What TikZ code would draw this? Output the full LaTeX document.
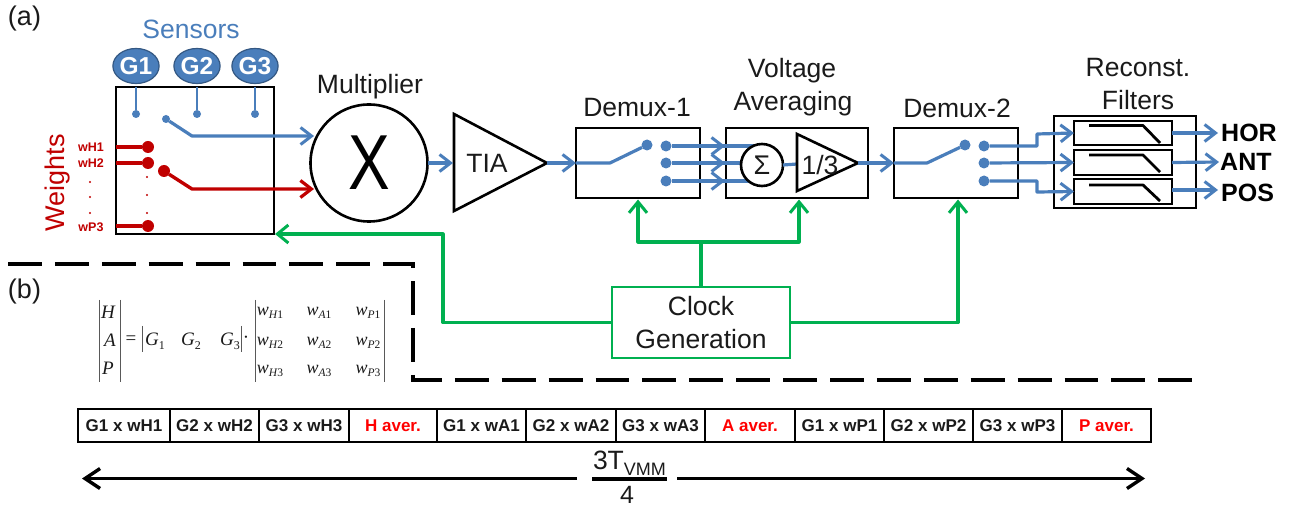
\documentclass[tikz,border=0pt]{standalone}
\usepackage{fontspec}
\setmainfont{Liberation Sans}
\newfontfamily\eqfont{Liberation Serif}
\usetikzlibrary{arrows.meta,shapes.geometric}
\definecolor{sblue}{HTML}{4A7EBB}
\definecolor{dred}{HTML}{C00000}
\definecolor{sgreen}{HTML}{00B050}
\definecolor{bred}{HTML}{FF0000}
\definecolor{txt}{HTML}{1A1A1A}
\newcommand\wsub[2]{w\raisebox{-3.5pt}{\fontsize{11.5}{11.5}\selectfont #1\upshape #2}}
\newcommand\gsub[1]{G\raisebox{-4pt}{\fontsize{12}{12}\selectfont\upshape #1}}
\tikzset{
  fs/.style={font=\fontsize{#1}{#1}\selectfont},
  lbl/.style={inner sep=0,outer sep=0,text=txt,fs=26.5},
  blk/.style={draw=black,line width=2.6pt,inner sep=0,outer sep=0,fill=white},
  blueline/.style={draw=sblue,line width=3.2pt,line join=round},
  bluearrow/.style={blueline,-{Straight Barb[length=11pt,width=17pt,line width=3pt]}},
  redline/.style={draw=dred,line width=3.4pt,line join=round},
  redarrow/.style={redline,-{Straight Barb[length=11pt,width=17pt,line width=3.2pt]}},
  greenarrow/.style={draw=sgreen,line width=3.2pt,line join=round,-{Straight Barb[length=11pt,width=18pt,line width=3pt]}},
  greenline/.style={draw=sgreen,line width=3.2pt,line join=round},
  bdot/.style={circle,fill=sblue,inner sep=0,outer sep=0,minimum size=#1},
  rdot/.style={circle,fill=dred,inner sep=0,outer sep=0,minimum size=#1},
  sensor/.style={ellipse,draw=sblue!70!black,line width=1.2pt,fill=sblue,inner sep=0,minimum width=42pt,minimum height=35pt,text=white,font=\fontsize{24.5}{24.5}\selectfont\bfseries},
  wlab/.style={inner sep=0,text=dred,font=\fontsize{12.5}{13}\selectfont\bfseries},
  outlbl/.style={inner sep=0,text=black,font=\fontsize{25}{25}\selectfont\bfseries},
  slot/.style={draw=black,line width=2.6pt,inner sep=0,outer sep=0,minimum height=33pt,font=\fontsize{17}{17}\selectfont\bfseries,text=txt},
  aver/.style={slot,text=bred},
  eqn/.style={inner sep=0,text=txt,font=\eqfont\itshape\fontsize{19}{19}\selectfont},
  eqs/.style={inner sep=0,text=txt,font=\eqfont\itshape\fontsize{18}{18}\selectfont},
  ebar/.style={draw=black!65,line width=1pt},
  filt/.style={draw=black,line width=2.8pt,line join=round},
  dashrule/.style={draw=black,line width=3.6pt,dash pattern=on 33.9pt off 13pt,line join=miter},
  kline/.style={draw=black,line width=3.4pt},
  kernarrow/.style={kline,-{Straight Barb[length=15pt,width=20pt,line width=3.4pt]}},
}
\begin{document}
\begin{tikzpicture}[x=1pt,y=-1pt]
\useasboundingbox (0,0) rectangle (1303,510);
\node[lbl,anchor=west,fs=27] (lblA) at (8,19) {(a)};
\node[lbl,anchor=west,fs=27] (lblB) at (8,292) {(b)};
% sensor box
\node[blk,minimum width=158pt,minimum height=147pt] (sbox) at (195,160.5) {};
\node[lbl,text=sblue] (sens) at (191,29) {Sensors};
\node[sensor] (G1) at (136,66) {G1};
\node[sensor] (G2) at (197,66) {G2};
\node[sensor] (G3) at (255,66) {G3};
\node[bdot=8pt] (c1) at (136,114) {};
\node[bdot=8pt] (c2) at (197,114) {};
\node[bdot=8pt] (c3) at (255,114) {};
\draw[blueline,line width=2.2pt] (136,87) -- (c1);
\draw[blueline,line width=2.2pt] (197,87) -- (c2);
\draw[blueline,line width=2.2pt] (255,87) -- (c3);
\node[bdot=8pt] (sw1) at (166,119) {};
\node[circle,draw,line width=2.6pt,fill=white,minimum size=117pt,inner sep=0,outer sep=0,font=\fontsize{78}{78}\selectfont] (mul) at (369,163) {\scalebox{0.8}[1]{X}};
\node[lbl] (mull) at (370,87) {Multiplier};
\coordinate (k1) at (192,136);
\coordinate (k2) at (192,189);
\coordinate (mi1) at (314,136);
\coordinate (mi2) at (314,189);
\draw[bluearrow] (sw1) -- (k1) -- (mi1);
% weights
\node[rdot=12pt] (w1) at (148,147) {};
\node[rdot=12pt] (w2) at (148,163) {};
\node[rdot=12pt] (w3) at (148,226) {};
\node[rdot=12pt] (sw2) at (164,171) {};
\draw[redline] (116,147) -- (w1);
\draw[redline] (116,163) -- (w2);
\draw[redline] (116,226) -- (w3);
\draw[redarrow] (sw2) -- (k2) -- (mi2);
\node[wlab] (lw1) at (91,147) {wH1};
\node[wlab] (lw2) at (91,163) {wH2};
\node[wlab] (lw3) at (91,227) {wP3};
\node[lbl,text=dred,fs=27,rotate=90] (wts) at (58,183) {Weights};
\foreach \y in {182,197,213}{\fill[dred] (90,\y) circle (1.2pt);}
\foreach \y in {177,195,213}{\fill[dred] (147,\y) circle (1.2pt);}
% TIA
\coordinate (t1) at (454,114); \coordinate (t2) at (454,211); \coordinate (t3) at (547,163);
\draw[black,line width=2.6pt,line join=miter] (t1) -- (t2) -- (t3) -- cycle;
\node[lbl] (tia) at (487,163) {TIA};
\draw[bluearrow] (mul.east) -- (453,163);
% demux 1
\node[blk,minimum width=124pt,minimum height=70pt] (d1) at (638,163) {};
\node[lbl] (d1l) at (637,108) {Demux-1};
\draw[bluearrow] (t3) -- (d1.west);
\node[bdot=11pt] (d1s) at (647,145) {};
\node[bdot=11pt] (d1a) at (666,146) {};
\node[bdot=11pt] (d1b) at (666,163) {};
\node[bdot=11pt] (d1c) at (666,181) {};
\draw[blueline] (d1.west) -- (610,163) -- (d1s);
% averaging
\node[blk,minimum width=142pt,minimum height=70pt] (va) at (797,163) {};
\node[lbl] (val) at (792,71) {Voltage};
\node[lbl] (val2) at (793,104) {Averaging};
\coordinate (a1) at (755,146);
\coordinate (a2) at (741,163);
\coordinate (a3) at (750,181);
\draw[blueline] (d1a) -- (a1);
\draw[blueline] (d1b) -- (a2);
\draw[blueline] (d1c) -- (a3);
\draw[bluearrow] (d1a) -- (725,146);
\draw[bluearrow] (d1b) -- (725,163);
\draw[bluearrow] (d1c) -- (725,181);
\node[circle,draw,line width=2.6pt,fill=white,minimum size=42pt,inner sep=0,outer sep=0,text=txt,font=\fontsize{27}{27}\selectfont] (sig) at (762,165) {Σ};
\coordinate (v1) at (797,134); \coordinate (v2) at (797,191); \coordinate (v3) at (858,163);
\draw[blueline] (sig.east) -- (797,164);
\draw[black,line width=2.6pt,line join=miter] (v1) -- (v2) -- (v3) -- cycle;
\node[lbl] (third) at (820,165) {1/3};
% demux 2
\node[blk,minimum width=124pt,minimum height=70pt] (d2) at (956,163) {};
\node[lbl] (d2l) at (957,108) {Demux-2};
\draw[bluearrow] (v3) -- (d2.west);
\node[bdot=11pt] (d2s) at (965,145) {};
\node[bdot=11pt] (d2a) at (984,146) {};
\node[bdot=11pt] (d2b) at (984,163) {};
\node[bdot=11pt] (d2c) at (984,181) {};
\draw[blueline] (d2.west) -- (927,163) -- (d2s);
% filters
\node[blk,minimum width=142pt,minimum height=92pt] (fo) at (1125,162) {};
\node[lbl] (fl1) at (1138,68) {Reconst.};
\node[lbl] (fl2) at (1138,100) {Filters};
\node[blk,minimum width=98pt,minimum height=24pt] (f1) at (1123,133) {};
\node[blk,minimum width=98pt,minimum height=25pt] (f2) at (1123,162.5) {};
\node[blk,minimum width=98pt,minimum height=25pt] (f3) at (1123,191.5) {};
\draw[filt] (1089,125.5) -- (1143,125.5) -- (1160,143);
\draw[filt] (1089,155) -- (1143,155) -- (1160,172);
\draw[filt] (1089,185) -- (1143,185) -- (1160,201);
\draw[bluearrow] (d2a) -- (1037,146) -- (1037,134) -- (f1.west);
\draw[bluearrow] (d2b) -- (f2.west);
\draw[bluearrow] (d2c) -- (1037,181) -- (1037,192) -- (f3.west);
\node[outlbl,anchor=west] (hor) at (1221,133) {HOR};
\node[outlbl,anchor=west] (ant) at (1220,162) {ANT};
\node[outlbl,anchor=west] (pos) at (1221,193) {POS};
\coordinate (ph) at (1218,190);
\draw[bluearrow,shorten >=3pt] (f1.east) -- (hor.west);
\draw[bluearrow,shorten >=1pt] (f2.east) -- (ant.west);
\draw[bluearrow] (f3.east |- ph) -- (ph);
% clock
\node[draw=sgreen,line width=2.8pt,fill=white,minimum width=178pt,minimum height=71pt,inner sep=0,outer sep=0] (clk) at (701,322.5) {};
\node[lbl] (clk1) at (701,306) {Clock};
\node[lbl] (clk2) at (701,339) {Generation};
\coordinate (gj) at (701,242);
\draw[greenline] (clk.north) -- (gj);
\draw[greenarrow] (gj) -- (638,242) -- (638,199.5);
\draw[greenarrow] (gj) -- (799,242) -- (799,199.5);
\draw[greenarrow] (clk.west) -- (443,322.5) -- (443,234) -- (275,234);
\draw[greenarrow] (clk.east) -- (958,322.5) -- (958,199.5);
% dashed rule
\coordinate (r0) at (8,264); \coordinate (r1) at (413,264); \coordinate (r2) at (413,380); \coordinate (r3) at (1193,380);
\draw[dashrule] (r0) -- (r1) -- (r2) -- (r3);
% equation
\node[eqn] (eH) at (108,312) {H};
\node[eqn] (eA) at (110,340) {A};
\node[eqn] (eP) at (108,368) {P};
\draw[ebar] (99,300) -- (99,382);
\draw[ebar] (120,300) -- (120,382);
\node[eqn,font=\eqfont\fontsize{19}{19}\selectfont] (eEq) at (131,340) {=};
\draw[ebar] (142,326) -- (142,352);
\node[eqn] (g1) at (155,341) {\gsub{1}};
\node[eqn] (g2) at (191,341) {\gsub{2}};
\node[eqn] (g3) at (230,341) {\gsub{3}};
\draw[ebar] (241.5,326) -- (241.5,352);
\node[eqn,font=\eqfont\fontsize{19}{19}\selectfont] (eDot) at (246,340) {·};
\draw[ebar] (255,300) -- (255,382);
\draw[ebar] (384,300) -- (384,382);
\node[eqs] (m11) at (270,313) {\wsub{H}{1}};
\node[eqs] (m12) at (319,313) {\wsub{A}{1}};
\node[eqs] (m13) at (368,313) {\wsub{P}{1}};
\node[eqs] (m21) at (270,343) {\wsub{H}{2}};
\node[eqs] (m22) at (319,343) {\wsub{A}{2}};
\node[eqs] (m23) at (368,343) {\wsub{P}{2}};
\node[eqs] (m31) at (270,371) {\wsub{H}{3}};
\node[eqs] (m32) at (319,371) {\wsub{A}{3}};
\node[eqs] (m33) at (368,371) {\wsub{P}{3}};
% timeline
\node[slot,minimum width=92pt] (s1) at (124,425.5) {G1 x wH1};
\node[slot,minimum width=89pt] (s2) at (214.5,425.5) {G2 x wH2};
\node[slot,minimum width=90pt] (s3) at (304,425.5) {G3 x wH3};
\node[aver,minimum width=88pt] (s4) at (393,425.5) {H aver.};
\node[slot,minimum width=89pt] (s5) at (481.5,425.5) {G1 x wA1};
\node[slot,minimum width=90pt] (s6) at (571,425.5) {G2 x wA2};
\node[slot,minimum width=89pt] (s7) at (660.5,425.5) {G3 x wA3};
\node[aver,minimum width=90pt] (s8) at (750,425.5) {A aver.};
\node[slot,minimum width=89pt] (s9) at (839.5,425.5) {G1 x wP1};
\node[slot,minimum width=89pt] (s10) at (928.5,425.5) {G2 x wP2};
\node[slot,minimum width=89pt] (s11) at (1017.5,425.5) {G3 x wP3};
\node[aver,minimum width=89pt] (s12) at (1106.5,425.5) {P aver.};
% fraction
\node[lbl,fs=26.5,anchor=base west] (fnum) at (593,469) {3T\raisebox{-6pt}{\fontsize{18}{18}\selectfont VMM}};
\node[lbl,fs=25] (fden) at (627,495) {4};
\coordinate (fbl) at (592,479); \coordinate (fbr) at (667,479);
\draw[kline] (fbl) -- (fbr);
\coordinate (ael) at (82,478.5); \coordinate (aer) at (1145,478.5);
\coordinate (agl) at (577,478.5); \coordinate (agr) at (677,478.5);
\draw[kernarrow] (agl) -- (ael);
\draw[kernarrow] (agr) -- (aer);
\end{tikzpicture}
\end{document}
